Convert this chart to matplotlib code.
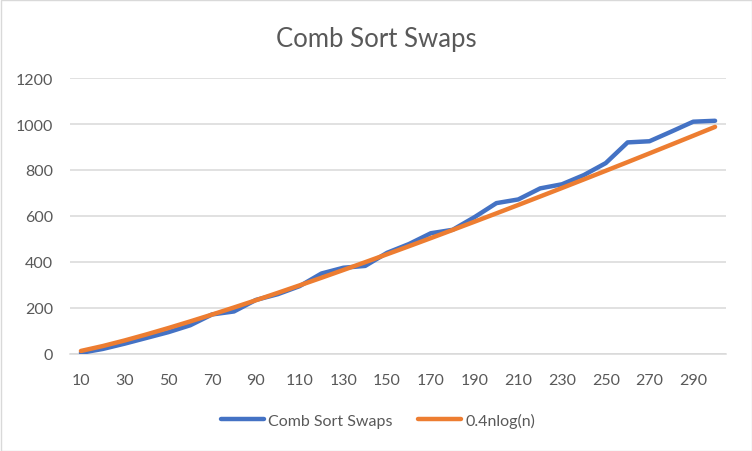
import matplotlib
matplotlib.use("Agg")
import matplotlib.pyplot as plt
from matplotlib.patches import Rectangle

n_values = [10, 20, 30, 40, 50, 60, 70, 80, 90, 100,
            110, 120, 130, 140, 150, 160, 170, 180, 190, 200,
            210, 220, 230, 240, 250, 260, 270, 280, 290, 300]
comb_swaps = [5, 22, 45, 70, 95, 125, 172, 185, 235, 260,
              295, 350, 375, 383, 440, 478, 525, 540, 595, 656,
              672, 720, 738, 778, 830, 920, 925, 967, 1010, 1014]
nlogn_04 = [13.3, 34.6, 58.9, 85.2, 112.9, 141.8, 171.6, 202.3, 233.7, 265.8,
            298.4, 331.5, 365.2, 399.2, 433.7, 468.6, 503.8, 539.4, 575.3, 611.5,
            648.0, 684.8, 721.8, 759.1, 796.6, 834.3, 872.3, 910.5, 948.9, 987.5]
y_ticks = [0, 200, 400, 600, 800, 1000, 1200]
title = "Comb Sort Swaps"
series_names = ["Comb Sort Swaps", "0.4nlog(n)"]

plt.rcParams['font.family'] = ['Lato', 'DejaVu Sans']
text_color = "#595959"
grid_color = "#D9D9D9"

fig = plt.figure(figsize=(7.52, 4.52), dpi=100)
ax = fig.add_axes([70/752, 1-355/452, 656/752, 276/452])

x = list(range(len(n_values)))
ax.plot(x, comb_swaps, color="#4472C4", lw=3.2, solid_capstyle='round',
        solid_joinstyle='round', label=series_names[0], zorder=3)
ax.plot(x, nlogn_04, color="#ED7D31", lw=3.2, solid_capstyle='round',
        solid_joinstyle='round', label=series_names[1], zorder=4)

ax.set_xlim(-0.5, len(n_values) - 0.5)
ax.set_ylim(0, 1200)
ax.set_yticks(y_ticks)
ax.set_yticklabels([str(v) for v in y_ticks])
ax.set_xticks(x[::2])
ax.set_xticklabels([str(v) for v in n_values[::2]])
ax.yaxis.grid(True, color=grid_color, lw=1.1)
ax.set_axisbelow(True)
for s in ["top", "right", "left"]:
    ax.spines[s].set_visible(False)
ax.spines["bottom"].set_color(grid_color)
ax.spines["bottom"].set_linewidth(1.1)
ax.tick_params(axis='both', length=0, labelsize=11.5, colors=text_color)
ax.tick_params(axis='y', pad=12)
ax.tick_params(axis='x', pad=14)

fig.text(0.5, 1 - 39/452, title, ha='center', va='center', fontsize=18.5, color=text_color)

leg = fig.legend(loc='center', bbox_to_anchor=(378/752, 1 - 421/452), ncol=2, frameon=False,
                 fontsize=11.5, handlelength=2.7, handletextpad=0.25, columnspacing=1.6,
                 labelcolor=text_color)

fig.patches.append(Rectangle((0.5/752, 0.5/452), 1 - 1/752, 1 - 1/452, transform=fig.transFigure,
                             fill=False, edgecolor=grid_color, lw=1.0))

fig.savefig("out.png", dpi=100)
